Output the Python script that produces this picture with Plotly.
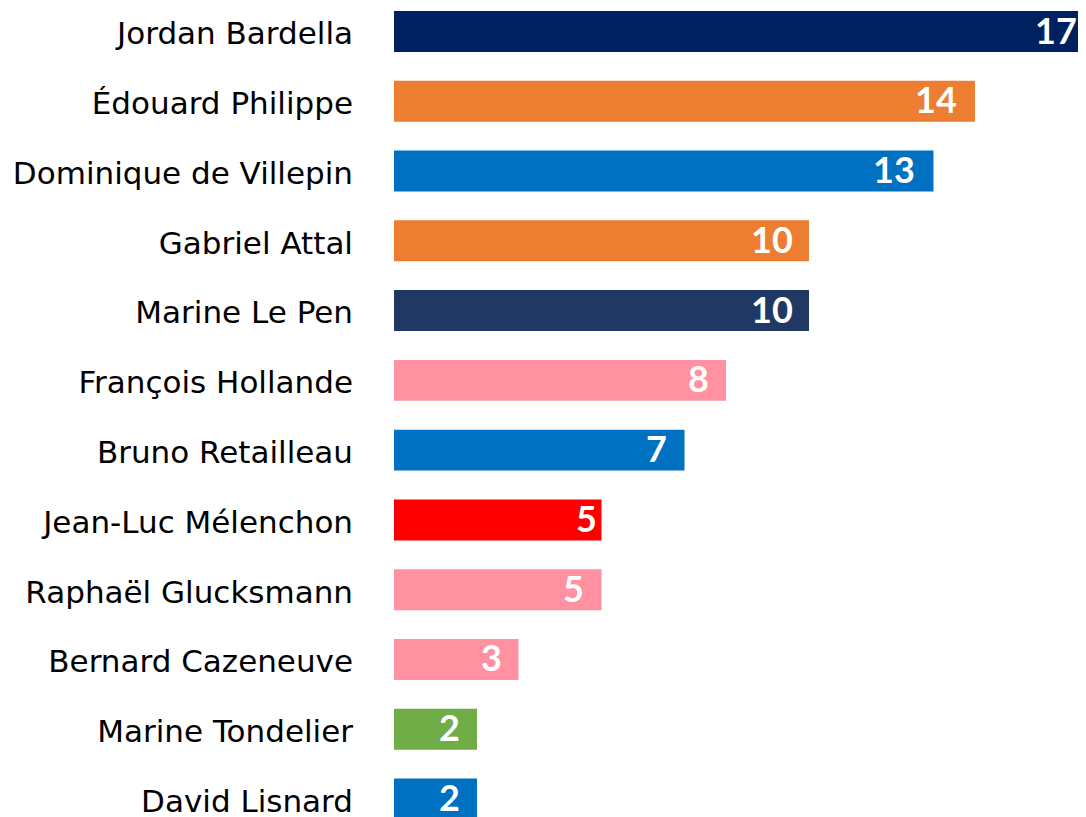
import plotly.graph_objects as go

names = ["Jordan Bardella", "Édouard Philippe", "Dominique de Villepin", "Gabriel Attal",
         "Marine Le Pen", "François Hollande", "Bruno Retailleau", "Jean-Luc Mélenchon",
         "Raphaël Glucksmann", "Bernard Cazeneuve", "Marine Tondelier", "David Lisnard"]
values = [17, 14, 13, 10, 10, 8, 7, 5, 5, 3, 2, 2]
colors = ["#002060", "#ED7D31", "#0070C0", "#ED7D31", "#203864", "#FF91A0",
          "#0070C0", "#FF0000", "#FF91A0", "#FF91A0", "#70AD47", "#0070C0"]
# style: gap (px) between the value label and the visible end of its bar
label_pad = [9, 18, 18, 16, 16, 17, 17, 5, 18, 17, 17, 17]

XMAX = 16.675
label_font = dict(family="Lato", size=36, color="white", weight="bold")

fig = go.Figure(go.Bar(
    x=values, y=names, orientation="h",
    marker=dict(color=colors, line=dict(width=0)),
    cliponaxis=True, hoverinfo="x+y",
))

for n, v, p in zip(names, values, label_pad):
    fig.add_annotation(x=min(v, XMAX), y=n, xref="x", yref="y", text=str(v),
                       showarrow=False, xanchor="right", yanchor="middle",
                       xshift=-p + 1, yshift=2, borderpad=0, font=label_font)

fig.update_layout(
    width=1078, height=809,
    margin=dict(l=386, r=0, t=0, b=0, pad=0, autoexpand=False),
    paper_bgcolor="white", plot_bgcolor="white",
    bargap=0.413, showlegend=False,
    xaxis=dict(range=[0, XMAX], visible=False, fixedrange=True, automargin=False),
    yaxis=dict(categoryorder="array", categoryarray=names, automargin=False,
               range=[11.258, -0.337], showgrid=False, zeroline=False, showline=False,
               ticks="", ticklabelstandoff=40, ticklabelshift=-2, fixedrange=True,
               tickfont=dict(family="DejaVu Sans", size=31, color="#000000")),
)

fig.write_html("out.html")
